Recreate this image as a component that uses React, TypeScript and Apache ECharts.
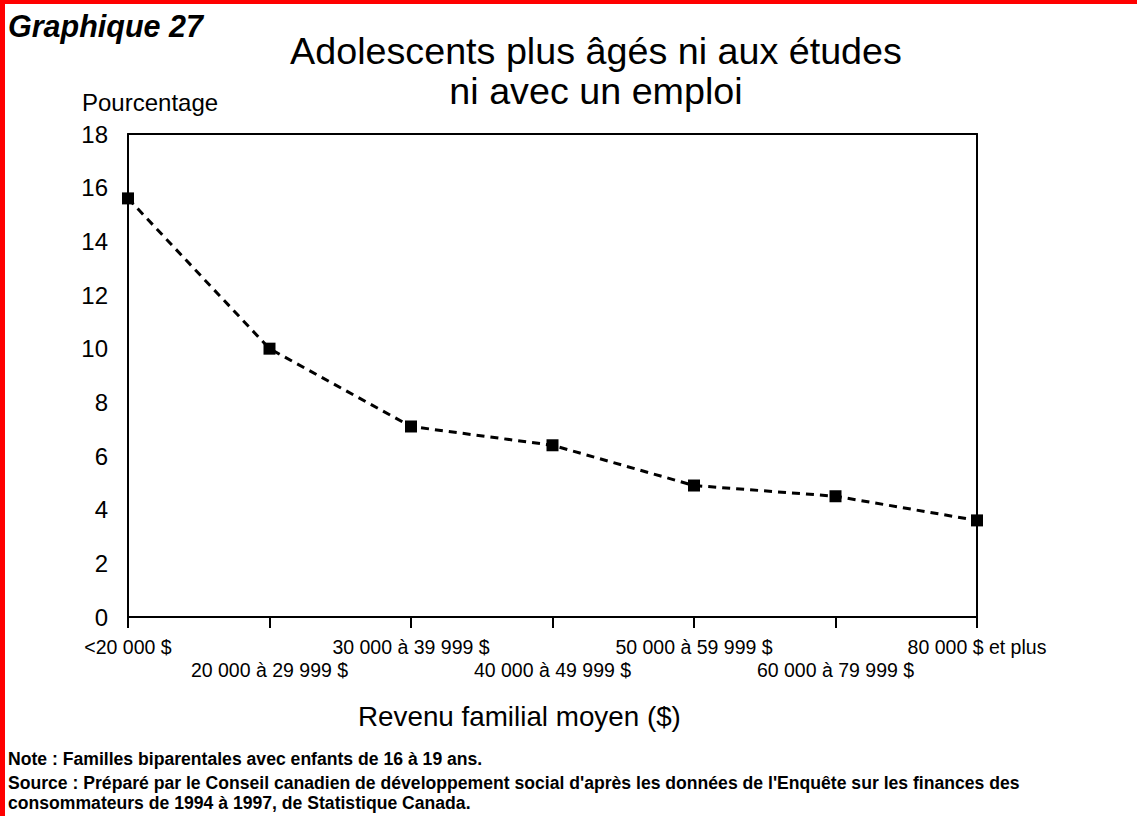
import React, { useEffect, useRef } from "react";
import * as echarts from "echarts";

const categories = [
  "<20 000 $",
  "20 000 à 29 999 $",
  "30 000 à 39 999 $",
  "40 000 à 49 999 $",
  "50 000 à 59 999 $",
  "60 000 à 79 999 $",
  "80 000 $ et plus",
];
const values = [15.6, 10.0, 7.1, 6.4, 4.9, 4.5, 3.6];
const yMin = 0;
const yMax = 18;
const yInterval = 2;

const titleText = "Adolescents plus âgés ni aux études\nni avec un emploi";
const chartLabel = "Graphique 27";
const yName = "Pourcentage";
const xName = "Revenu familial moyen ($)";
const noteLines = [
  "Note : Familles biparentales avec enfants de 16 à 19 ans.",
  "Source : Préparé par le Conseil canadien de développement social d'après les données de l'Enquête sur les finances des",
  "consommateurs de 1994 à 1997, de Statistique Canada.",
];

export default function App() {
  const ref = useRef<HTMLDivElement>(null);
  useEffect(() => {
    if (!ref.current) return;
    const chart = echarts.init(ref.current, null, { renderer: "svg" });
    const font = "Liberation Sans, Arial, sans-serif";
    chart.setOption({
      animation: false,
      backgroundColor: "#ffffff",
      title: {
        text: titleText,
        left: 591,
        top: 26,
        textAlign: "center",
        textStyle: {
          fontFamily: font,
          fontSize: 37.7,
          fontWeight: "normal",
          color: "#000",
          lineHeight: 40,
        },
      },
      grid: { left: 128, top: 134, right: 160, bottom: 199, containLabel: false },
      xAxis: [
        {
          type: "category",
          data: categories,
          boundaryGap: false,
          axisLine: { lineStyle: { color: "#000", width: 2 } },
          axisTick: { show: true, length: 11, lineStyle: { color: "#000", width: 2 } },
          axisLabel: {
            interval: 0,
            color: "#000",
            fontFamily: font,
            fontSize: 19.5,
            margin: 18,
            lineHeight: 23,
            formatter: (v: string, i: number) => (i % 2 === 1 ? "\n" + v : v + "\n"),
          },
          splitLine: { show: false },
        },
        {
          type: "category",
          data: categories,
          boundaryGap: false,
          position: "top",
          axisLine: { show: true, onZero: false, lineStyle: { color: "#000", width: 2 } },
          axisTick: { show: false },
          axisLabel: { show: false },
        },
      ],
      yAxis: [
        {
          type: "value",
          min: yMin,
          max: yMax,
          interval: yInterval,
          axisLine: { show: true, lineStyle: { color: "#000", width: 2 } },
          axisTick: { show: false },
          splitLine: { show: false },
          axisLabel: {
            color: "#000",
            fontFamily: font,
            fontSize: 24,
            margin: 20,
          },
        },
        {
          type: "value",
          min: yMin,
          max: yMax,
          interval: yInterval,
          position: "right",
          axisLine: { show: true, onZero: false, lineStyle: { color: "#000", width: 2 } },
          axisTick: { show: false },
          splitLine: { show: false },
          axisLabel: { show: false },
        },
      ],
      series: [
        {
          type: "line",
          data: values,
          symbol: "rect",
          symbolSize: 12,
          itemStyle: { color: "#000" },
          lineStyle: { color: "#000", width: 3, type: [8, 6] },
        },
      ],
      graphic: [
        { type: "rect", left: 0, top: 0, shape: { width: 1137, height: 4 }, style: { fill: "#ff0000" } },
        { type: "rect", left: 0, top: 0, shape: { width: 5, height: 816 }, style: { fill: "#ff0000" } },
        {
          type: "text",
          left: 8,
          top: 11,
          style: {
            text: chartLabel,
            fontFamily: font,
            fontSize: 30.5,
            fontWeight: "bold",
            fontStyle: "italic",
            fill: "#000",
          },
        },
        {
          type: "text",
          left: 82,
          top: 90,
          style: { text: yName, fontFamily: font, fontSize: 24, fill: "#000" },
        },
        {
          type: "text",
          left: 358,
          top: 702,
          style: { text: xName, fontFamily: font, fontSize: 27.8, fill: "#000" },
        },
        ...noteLines.map((t, i) => ({
          type: "text",
          left: 8,
          top: [750, 774, 794][i],
          style: {
            text: t,
            fontFamily: font,
            fontSize: 17.6,
            fontWeight: "bold",
            fill: "#000",
          },
        })),
      ],
    });
    return () => chart.dispose();
  }, []);
  return (
    <div
      ref={ref}
      style={{ position: "fixed", left: 0, top: 0, width: 1137, height: 816, background: "#fff" }}
    />
  );
}
